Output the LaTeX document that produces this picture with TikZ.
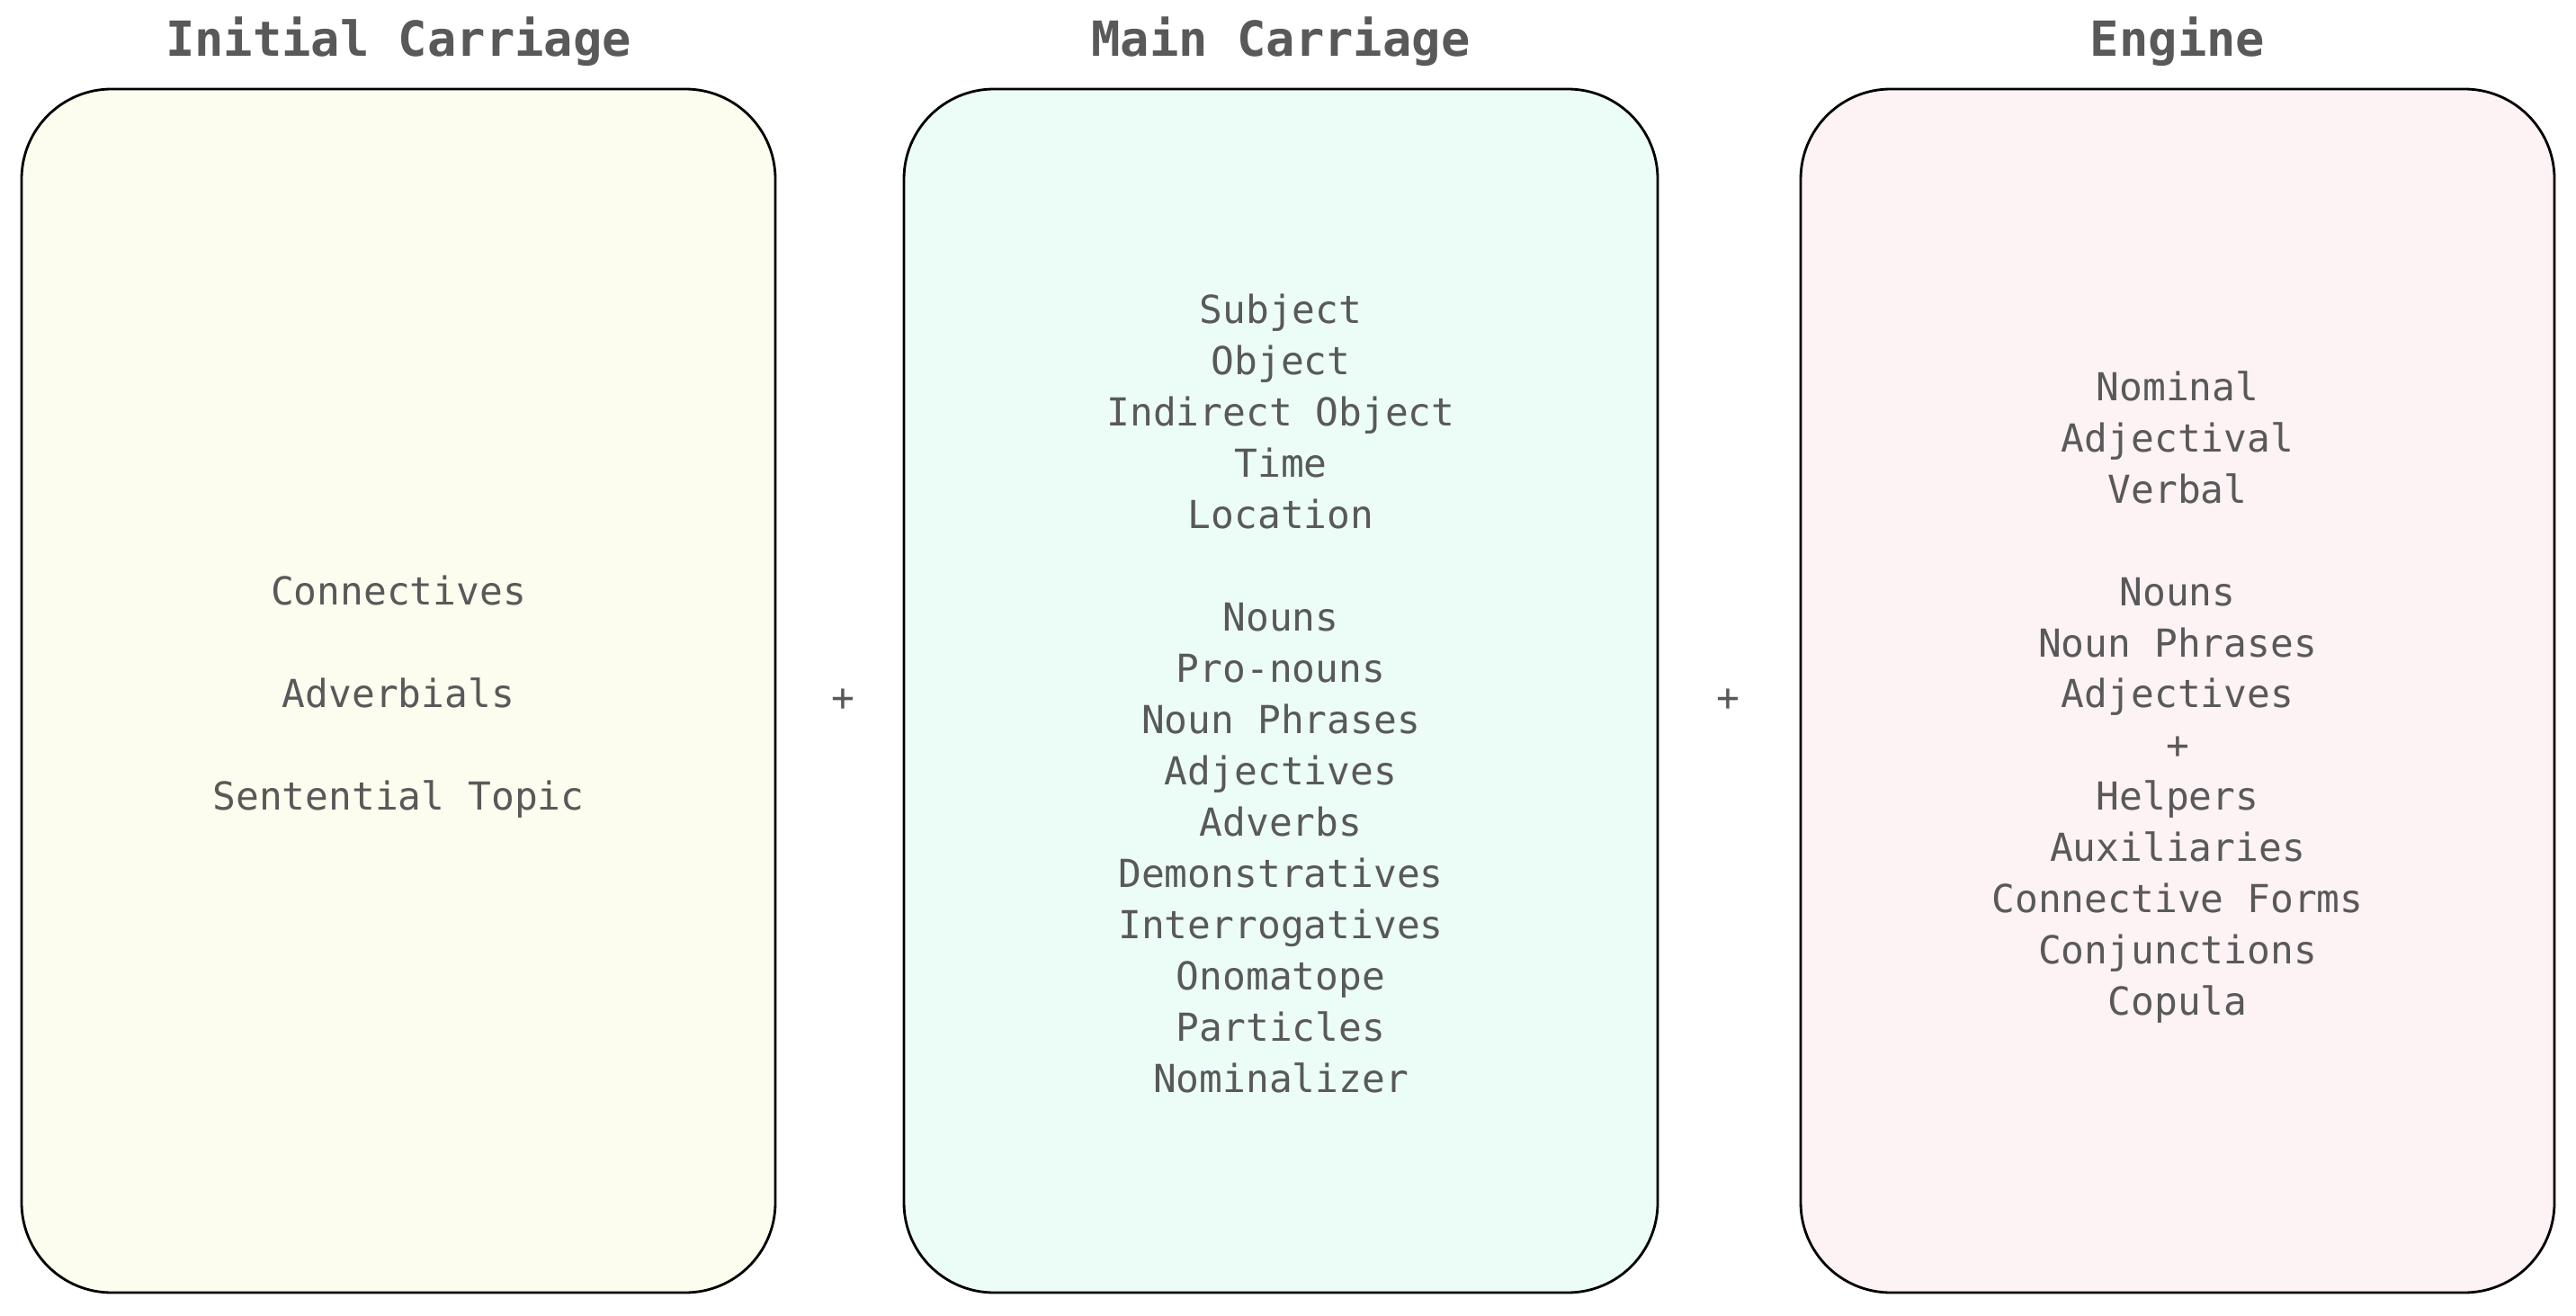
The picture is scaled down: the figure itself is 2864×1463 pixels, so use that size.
\documentclass[tikz,border=0pt]{standalone}
\usepackage{fontspec}
\setmonofont{DejaVu Sans Mono}
\definecolor{txt}{HTML}{595959}
\definecolor{fillA}{HTML}{FCFDEF}
\definecolor{fillB}{HTML}{ECFDF7}
\definecolor{fillC}{HTML}{FDF2F4}
\begin{document}
\begin{tikzpicture}[x=0.1mm,y=-0.1mm,
  car/.style={draw=black, line width=0.8pt, rounded corners=10mm, minimum width=83.8mm, minimum height=133.8mm, inner sep=0pt},
  title/.style={text=txt, font=\ttfamily\bfseries\fontsize{15.3}{18}\selectfont},
  body/.style={text=txt, align=center, font=\ttfamily\fontsize{12.2}{16.2}\selectfont},
  plus/.style={text=txt, font=\ttfamily\fontsize{12.2}{16.2}\selectfont}]
\useasboundingbox (0,0) rectangle (2864,1463);
\node[car, fill=fillA] (boxA) at (443,768) {};
\node[car, fill=fillB] (boxB) at (1424,768) {};
\node[car, fill=fillC] (boxC) at (2421,768) {};
\node[title] (tA) at (443,46) {Initial Carriage};
\node[title] (tB) at (1424,46) {Main Carriage};
\node[title] (tC) at (2421,46) {Engine};
\node[body] (bA) at (443,775) {Connectives\\[16.2pt]Adverbials\\[16.2pt]Sentential Topic};
\node[body] (bB) at (1424,771) {Subject\\Object\\Indirect Object\\Time\\Location\\[16.2pt]Nouns\\Pro-nouns\\Noun Phrases\\Adjectives\\Adverbs\\Demonstratives\\Interrogatives\\Onomatope\\Particles\\Nominalizer};
\node[body] (bC) at (2421,775) {Nominal\\Adjectival\\Verbal\\[16.2pt]Nouns\\Noun Phrases\\Adjectives\\+\\Helpers\\Auxiliaries\\Connective Forms\\Conjunctions\\Copula};
\node[plus] (p1) at (937,778) {+};
\node[plus] (p2) at (1921,778) {+};
\end{tikzpicture}
\end{document}
